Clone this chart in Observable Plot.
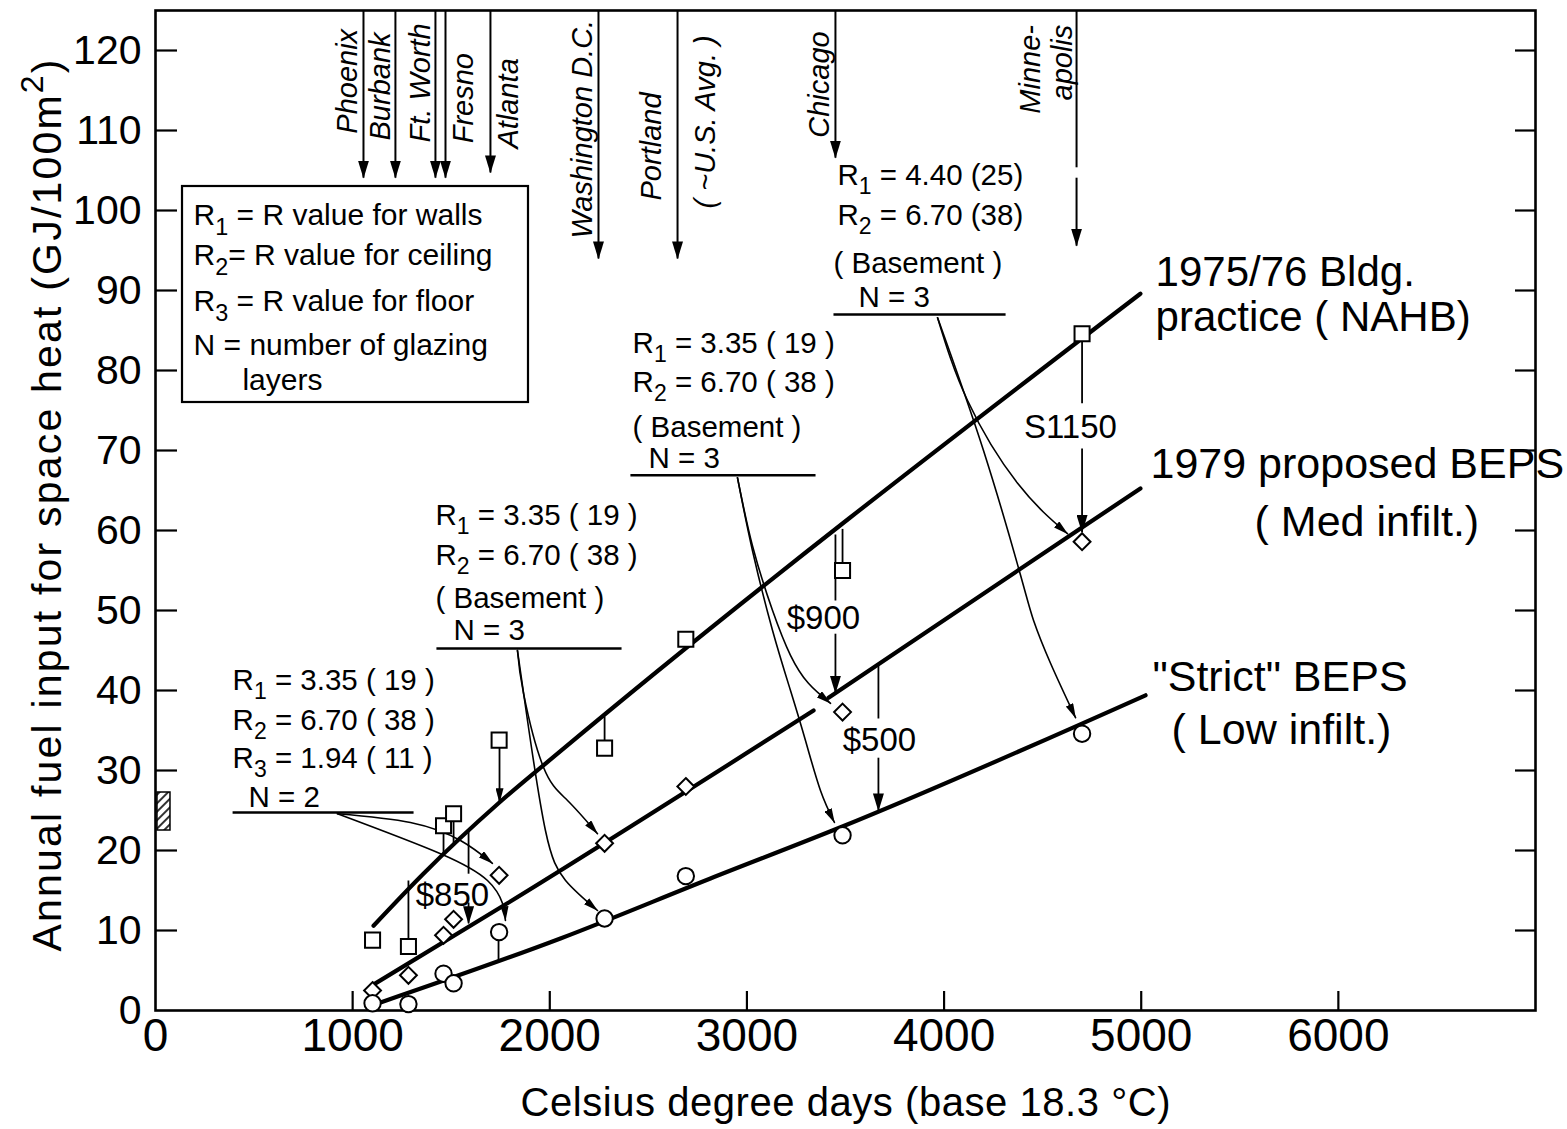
<!DOCTYPE html>
<html><head><meta charset="utf-8">
<script src="https://cdn.jsdelivr.net/npm/d3@7"></script>
<script src="https://cdn.jsdelivr.net/npm/@observablehq/plot@0.6"></script>
<style>body{margin:0;background:#fff;} svg{display:block}</style>
</head><body><div id="chart"></div>
<script>
// ---------- data ----------
const cityNames = ["Phoenix","Burbank","Ft. Worth","Fresno","Atlanta","Washington D.C.","Portland","Chicago","Minneapolis"];
const degreeDays = [1101, 1283, 1461, 1512, 1743, 2278, 2690, 3485, 4700];
const nahbValues = [8.8, 8.0, 23.1, 24.6, 33.8, 32.8, 46.4, 55.0, 84.6];
const bepsValues = [2.5, 4.4, 9.4, 11.4, 16.9, 20.9, 28.0, 37.3, 58.6];
const strictValues = [0.9, 0.8, 4.6, 3.4, 9.8, 11.5, 16.8, 21.9, 34.6];

// fitted trend lines
const nahbLineX = [1106, 1359, 1740, 2039, 4996];
const nahbLineY = [10.6, 17.1, 25.9, 32.1, 89.6];
const bepsLineX = [1106, 1785, 3338];
const bepsLineY = [3.25, 13.4, 37.5];
const bepsLine2X = [3414, 4677, 4996];
const bepsLine2Y = [39.1, 60, 65.25];
const strictLineX = [1141, 2054, 2815, 3475, 5022];
const strictLineY = [1.0, 9.0, 16.5, 22.9, 39.4];

// city arrows from the top
const cityArrowX = [1055, 1217, 1420, 1471, 1699, 2247, 2648, 3449, 4672];
const cityArrowTop = [125, 125, 125, 125, 125, 125, 125, 125, 104.1];
const cityArrowTip = [104.1, 104.1, 104.1, 104.1, 104.75, 94, 94, 106.6, 95.6];
const cityStubX = [4672]; const cityStubY1 = [125]; const cityStubY2 = [105.4];
const cityLabelText = ["Phoenix","Burbank","Ft. Worth","Fresno","Atlanta","Washington D.C.","Portland","( ~U.S. Avg. )","Chicago","Minne-","apolis"];
const cityLabelX = [974, 1141, 1344, 1562, 1790, 2166, 2516, 2790, 3368, 4438, 4601];
const cityLabelY = [109.6, 108.75, 108.5, 108.4, 107.75, 96.5, 101.25, 100.25, 109.1, 112.1, 113.75];

// plain drop lines
const dropX  = [1283, 1461, 1512, 1588, 1740, 2278, 3485, 3449, 3667, 4700];
const dropY1 = [16.25, 23.1, 24.6, 22.4, 9.75, 36.75, 60.2, 59.5, 43.3, 84.6];
const dropY2 = [8.0, 19.45, 20.6, 17.1, 6.25, 32.8, 55.0, 51.25, 36.5, 75.9];
// drop arrows (with heads)
const costArrowX  = [1588, 3449, 3667, 4700];
const costArrowY1 = [13.5, 47.1, 31.6, 70.25];
const costArrowY2 = [10.9, 39.7, 25.0, 59.8];
const smallArrowX  = [1745];
const smallArrowY1 = [33.75];
const smallArrowY2 = [26.0];
const costLabels = ["$850", "$900", "$500", "S1150"];
const costLabelX = [1506, 3388, 3672, 4641];
const costLabelY = [14.4, 49, 33.75, 72.9];

// annotation rules and notes
const ruleX1 = [391, 1425, 2409, 3439];
const ruleX2 = [1309, 2364, 3348, 4312];
const ruleYv = [24.75, 45.25, 66.9, 87.0];
const noteText = [
  "R_1 = 3.35 ( 19 )", "R_2 = 6.70 ( 38 )", "R_3 = 1.94 ( 11 )", "N = 2",
  "R_1 = 3.35 ( 19 )", "R_2 = 6.70 ( 38 )", "( Basement )", "N = 3",
  "R_1 = 3.35 ( 19 )", "R_2 = 6.70 ( 38 )", "( Basement )", "N = 3",
  "R_1 = 4.40 (25)", "R_2 = 6.70 (38)", "( Basement )", "N = 3"
];
const noteX = [391,391,391,472, 1420,1420,1420,1512, 2420,2420,2420,2501, 3459,3459,3439,3566];
const noteY = [41.25,36.25,31.5,26.6, 61.9,56.9,51.5,47.5, 83.4,78.5,72.9,69.0, 104.4,99.4,93.4,89.1];

// curved arrows from notes to points
const curveA1 = [[923,24.6],[1293,23.5],[1547,21.25],[1709,18.4]];
const curveA2 = [[923,24.6],[1446,19.6],[1684,16.25],[1760,13.4],[1775,11.25]];
const curveB1 = [[1836,45],[1867,39.6],[1968,30.4],[2090,26.25],[2242,22.1]];
const curveB2 = [[1836,45],[1887,36.25],[1978,22.5],[2080,16.25],[2242,12.5]];
const curveC1 = [[2952,66.6],[3028,58.1],[3130,50],[3221,44.4],[3312,40.9],[3424,38.4]];
const curveC2 = [[2952,66.6],[3028,57.5],[3130,47.5],[3221,40],[3297,33.75],[3373,27.5],[3444,23.5]];
const curveD1 = [[3967,86.6],[4119,76.25],[4373,65.9],[4626,59.6]];
const curveD2 = [[3967,86.6],[4200,70],[4388,54.4],[4454,48.75],[4540,43.4],[4667,36.6]];

// legend box
const legendBoxX = [137, 1892];
const legendBoxY = [76, 103];
const legendText = ["R_1 = R value for walls", "R_2= R value for ceiling", "R_3 = R value for floor", "N = number of glazing", "layers"];
const legendX = [193, 193, 193, 193, 441];
const legendY = [99.4, 94.4, 88.6, 83.2, 78.75];

// series labels
const seriesLabels = ["1975/76 Bldg.", "practice ( NAHB)", "1979 proposed BEPS", "( Med infilt.)", "\"Strict\" BEPS", "( Low infilt.)"];
const seriesLabelX = [5073, 5073, 5047, 5575, 5057, 5154];
const seriesLabelY = [92.3, 86.6, 68.25, 61.0, 41.6, 35.0];
const seriesLabelSize = [42, 42, 43, 43, 43, 43];

// hatched bar at left axis
const hatchX = [10, 76];
const hatchY = [22.5, 27.25];

// axes
const xTickVals = [0, 1000, 2000, 3000, 4000, 5000, 6000];
const yTickVals = [0, 10, 20, 30, 40, 50, 60, 70, 80, 90, 100, 110, 120];
const xTitle = "Celsius degree days (base 18.3 °C)";
const yTitle = "Annual fuel input for space heat (GJ/100m^2)";

// ---------- build ----------
const F = "'Liberation Sans', Arial, Helvetica, sans-serif";
const trendRows = [
  ...nahbLineX.map((x, i) => ({x, y: nahbLineY[i], k: "nahb"})),
  ...bepsLineX.map((x, i) => ({x, y: bepsLineY[i], k: "beps1"})),
  ...bepsLine2X.map((x, i) => ({x, y: bepsLine2Y[i], k: "beps2"})),
  ...strictLineX.map((x, i) => ({x, y: strictLineY[i], k: "strict"}))
];
const curves = {curveA1, curveA2, curveB1, curveB2, curveC1, curveC2, curveD1, curveD2};
const curveRows = Object.entries(curves).flatMap(([k, list]) => list.map(([x, y]) => ({x, y, k})));
const toPts = (vals) => degreeDays.map((x, i) => ({x, y: vals[i]}));
const vlinks = (xs, y1s, y2s) => xs.map((x, i) => ({x, y1: y1s[i], y2: y2s[i]}));
const rules = ruleX1.map((x1, i) => ({x1, x2: ruleX2[i], y: ruleYv[i]}));
const xTickMarks = xTickVals.filter(d => d > 0);
const yTickMarks = yTickVals.filter(d => d > 0);
const vl = {x1: "x", x2: "x", y1: "y1", y2: "y2"};

const plot = Plot.plot({
  width: 1567, height: 1129,
  marginLeft: 155, marginRight: 32, marginTop: 10, marginBottom: 119,
  x: {domain: [0, 7000], label: null},
  y: {domain: [0, 125], label: null},
  style: {fontFamily: F, background: "white", color: "black"},
  marks: [
    Plot.frame({stroke: "black", strokeWidth: 2.6}),
    Plot.ruleY(yTickMarks, {y: d => d, insetRight: 1380 - 22, strokeWidth: 2.2}),
    Plot.ruleY(yTickMarks, {y: d => d, insetLeft: 1380 - 20, strokeWidth: 2.2}),
    Plot.ruleX(xTickMarks, {x: d => d, insetTop: 1000 - 19, strokeWidth: 2.2}),
    Plot.axisX({ticks: xTickVals, tickSize: 0, tickPadding: 8, fontSize: 46, label: null, tickFormat: d => String(d)}),
    Plot.axisY({ticks: yTickVals, tickSize: 0, tickPadding: 14, fontSize: 41, label: null, tickFormat: d => String(d)}),
    Plot.text([xTitle], {frameAnchor: "bottom", dy: 93, fontSize: 40, textAnchor: "middle", lineAnchor: "middle", ariaDescription: "xtitle"}),
    Plot.text([yTitle], {frameAnchor: "left", dx: -108, dy: -5, rotate: -90, fontSize: 41, textAnchor: "middle", lineAnchor: "middle", ariaDescription: "ytitle"}),
    Plot.rect([0], {x1: () => legendBoxX[0], x2: () => legendBoxX[1], y1: () => legendBoxY[0], y2: () => legendBoxY[1], fill: "white", stroke: "black", strokeWidth: 2.2}),
    Plot.rect([0], {x1: () => hatchX[0], x2: () => hatchX[1], y1: () => hatchY[0], y2: () => hatchY[1], fill: "url(#hatch)", stroke: "black", strokeWidth: 1.5}),
    Plot.link(rules, {x1: "x1", x2: "x2", y1: "y", y2: "y", strokeWidth: 2.4}),
    Plot.line(trendRows, {x: "x", y: "y", z: "k", curve: "monotone-x", strokeWidth: 4.2, stroke: "black"}),
    Plot.link(vlinks(dropX, dropY1, dropY2), {...vl, strokeWidth: 1.8}),
    Plot.link(vlinks(costArrowX, costArrowY1, costArrowY2), {...vl, strokeWidth: 1.8, ariaDescription: "bigheads"}),
    Plot.link(vlinks(smallArrowX, smallArrowY1, smallArrowY2), {...vl, strokeWidth: 1.8, ariaDescription: "smallheads"}),
    Plot.link(vlinks(cityArrowX, cityArrowTop, cityArrowTip), {...vl, strokeWidth: 2, ariaDescription: "bigheads"}),
    Plot.link(vlinks(cityStubX, cityStubY1, cityStubY2), {...vl, strokeWidth: 2}),
    Plot.line(curveRows, {x: "x", y: "y", z: "k", curve: "natural", strokeWidth: 1.6, stroke: "black", ariaDescription: "smallheads"}),
    Plot.dot(toPts(nahbValues), {x: "x", y: "y", symbol: "square", r: 8.5, fill: "white", stroke: "black", strokeWidth: 2}),
    Plot.dot(toPts(bepsValues), {x: "x", y: "y", symbol: "diamond2", r: 7.6, fill: "white", stroke: "black", strokeWidth: 2}),
    Plot.dot(toPts(strictValues), {x: "x", y: "y", symbol: "circle", r: 8.2, fill: "white", stroke: "black", strokeWidth: 2}),
    Plot.text(cityLabelText, {x: (d, i) => cityLabelX[i], y: (d, i) => cityLabelY[i], text: d => d, rotate: -90, textAnchor: "start", lineAnchor: "middle", fontSize: 29, fontStyle: "italic"}),
    Plot.text(noteText, {x: (d, i) => noteX[i], y: (d, i) => noteY[i], text: d => d, textAnchor: "start", lineAnchor: "middle", fontSize: 29.5}),
    Plot.text(legendText, {x: (d, i) => legendX[i], y: (d, i) => legendY[i], text: d => d, textAnchor: "start", lineAnchor: "middle", fontSize: 30}),
    Plot.text(costLabels, {x: (d, i) => costLabelX[i], y: (d, i) => costLabelY[i], text: d => d, textAnchor: "middle", lineAnchor: "middle", fontSize: 33}),
    Plot.text(seriesLabels, {x: (d, i) => seriesLabelX[i], y: (d, i) => seriesLabelY[i], text: d => d, textAnchor: "start", lineAnchor: "middle", fontSize: (d, i) => seriesLabelSize[i]})
  ]
});

// ---------- post-processing: arrowheads, hatch, sub/superscripts ----------
const svg = d3.select(plot);
const defs = svg.insert("defs", ":first-child");
function addMarker(id, len, wid) {
  defs.append("marker").attr("id", id).attr("viewBox", "0 0 10 10").attr("refX", 9.5).attr("refY", 5)
    .attr("markerWidth", len).attr("markerHeight", wid).attr("markerUnits", "userSpaceOnUse")
    .attr("orient", "auto").attr("preserveAspectRatio", "none")
    .append("path").attr("d", "M0,0L10,5L0,10Z").attr("fill", "black").attr("stroke", "none");
}
addMarker("ahBig", 18, 11);
addMarker("ahSmall", 15, 8);
const pat = defs.append("pattern").attr("id", "hatch").attr("patternUnits", "userSpaceOnUse")
  .attr("width", 6).attr("height", 6).attr("patternTransform", "rotate(45)");
pat.append("rect").attr("width", 6).attr("height", 6).attr("fill", "white");
pat.append("line").attr("x1", 1).attr("y1", 0).attr("x2", 1).attr("y2", 6).attr("stroke", "black").attr("stroke-width", 1.6);

svg.selectAll('g[aria-description="bigheads"] path').attr("marker-end", "url(#ahBig)");
svg.selectAll('g[aria-description="smallheads"] path').attr("marker-end", "url(#ahSmall)");

document.getElementById("chart").appendChild(plot);

svg.selectAll('g[aria-description="xtitle"] text').attr("textLength", 650).attr("lengthAdjust", "spacing");
svg.selectAll('g[aria-description="ytitle"] text').attr("textLength", 892).attr("lengthAdjust", "spacing");

svg.selectAll("text").each(function () {
  const el = this;
  const t = el.textContent;
  if (!/[_^]\d/.test(t)) return;
  const fs = parseFloat(getComputedStyle(el).fontSize) || 30;
  while (el.firstChild) el.removeChild(el.firstChild);
  let shift = 0;
  t.split(/([_^]\d)/).forEach(p => {
    if (!p) return;
    const ts = document.createElementNS("http://www.w3.org/2000/svg", "tspan");
    if (p[0] === "_" || p[0] === "^") {
      const s = p[0] === "_" ? 0.32 * fs : -0.42 * fs;
      ts.setAttribute("dy", s - shift);
      shift = s;
      ts.setAttribute("font-size", (0.78 * fs) + "px");
      ts.textContent = p.slice(1);
    } else {
      if (shift !== 0) { ts.setAttribute("dy", -shift); shift = 0; }
      ts.textContent = p;
    }
    el.appendChild(ts);
  });
});
</script></body></html>
